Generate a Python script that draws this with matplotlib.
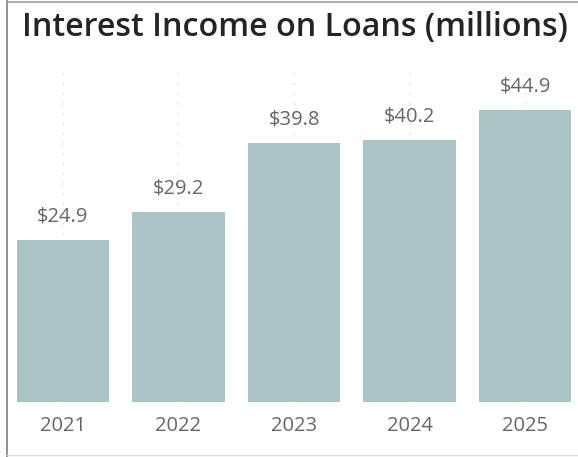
import matplotlib.pyplot as plt
from matplotlib.lines import Line2D

years = ["2021", "2022", "2023", "2024", "2025"]
income = [24.9, 29.2, 39.8, 40.2, 44.9]
value_labels = ["$24.9", "$29.2", "$39.8", "$40.2", "$44.9"]

W, H = 578, 457
fig = plt.figure(figsize=(W / 100, H / 100), dpi=100)
fig.patch.set_facecolor("white")

# axes runs a little past the right edge of the figure
ax = fig.add_axes([5 / W, (H - 404) / H, 578 / W, 334 / H])
x = range(len(years))

ax.vlines(x, -0.3, 51, colors="#bdbdbd", linewidth=0.8,
          linestyles=(0, (1, 8)), zorder=0)
ax.bar(x, income, width=0.8, color="#a8c4c4", zorder=2)

for i, (v, lab) in enumerate(zip(income, value_labels)):
    ax.annotate(lab, (i, v), xytext=(0, 13.2), textcoords="offset points",
                ha="center", va="baseline", fontsize=14.5, color="#666666",
                family="Open Sans")

ax.set_xlim(-0.5, 4.5)
ax.set_ylim(-0.3, 51)
ax.set_xticks(list(x))
ax.set_xticklabels(years, fontsize=14.5, color="#666666", family="Open Sans")
ax.tick_params(axis="x", length=0, pad=8.5)
ax.set_yticks([])
for s in ax.spines.values():
    s.set_visible(False)

fig.text(21.5 / W, 1 - 36 / H, "Interest Income on Loans (millions)",
         fontsize=23.2, color="#252423", family="Open Sans", weight="semibold",
         va="baseline")

# card border
fig.add_artist(Line2D([7 / W, 7 / W], [0, 1], transform=fig.transFigure,
                      color="#8f8f8f", linewidth=1.4))
fig.add_artist(Line2D([7 / W, 1], [1 - 1.5 / H, 1 - 1.5 / H],
                      transform=fig.transFigure, color="#a0a0a0", linewidth=1.2))
fig.add_artist(Line2D([7 / W, 1], [2.5 / H, 2.5 / H],
                      transform=fig.transFigure, color="#e0e0e0", linewidth=1))

fig.savefig("out.png", dpi=100)
